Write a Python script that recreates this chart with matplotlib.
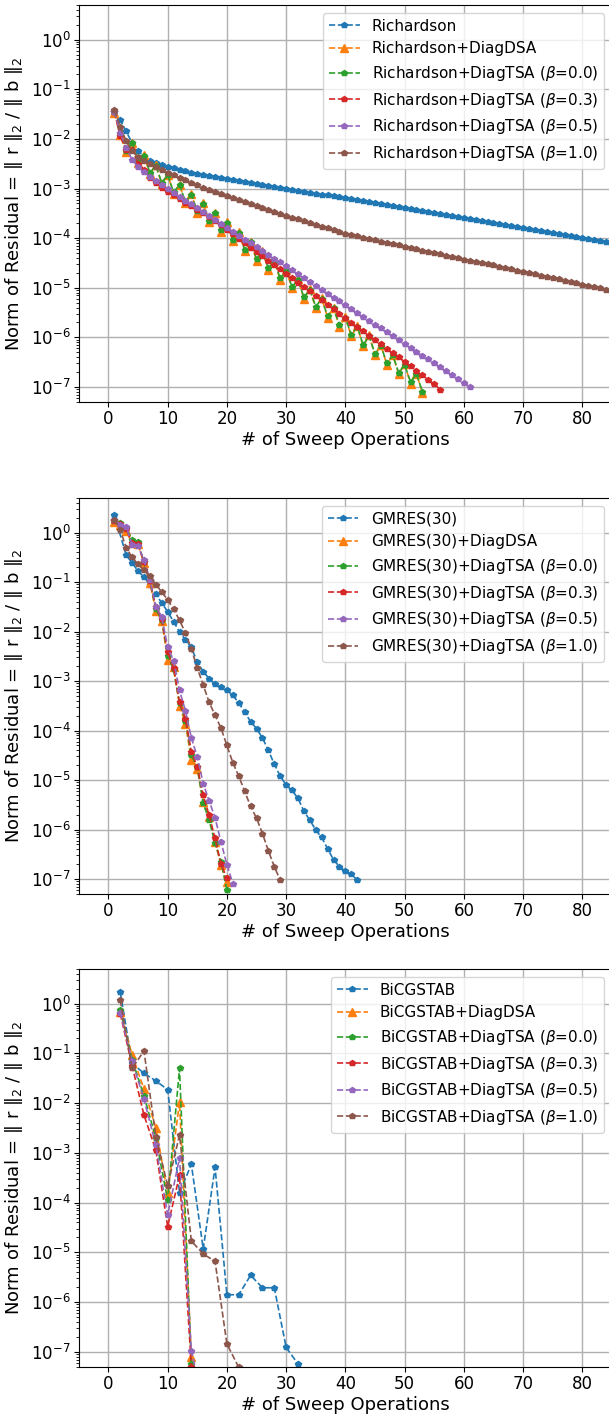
# 反復法ごとの残差ノルムの収束履歴 (Richardson / GMRES(30) / BiCGSTAB)

import numpy as np
import matplotlib.pyplot as plt

# ---- Richardson (log10 of residual norm), sweep = 1, 2, ...
rich_x = np.arange(1, 86)
rich = [-1.45, -1.62, -1.85, -2.08, -2.24, -2.36, -2.44, -2.49, -2.53, -2.57,
        -2.59, -2.62, -2.65, -2.68, -2.70, -2.72, -2.74, -2.76, -2.78, -2.80,
        -2.82, -2.84, -2.86, -2.88, -2.90, -2.92, -2.94, -2.96, -2.98, -3.00,
        -3.02, -3.04, -3.06, -3.08, -3.10, -3.12, -3.14, -3.16, -3.18, -3.20,
        -3.22, -3.24, -3.26, -3.28, -3.30, -3.32, -3.34, -3.36, -3.38, -3.40,
        -3.42, -3.44, -3.46, -3.48, -3.50, -3.52, -3.54, -3.56, -3.58, -3.60,
        -3.62, -3.64, -3.66, -3.68, -3.70, -3.72, -3.74, -3.76, -3.78, -3.80,
        -3.82, -3.84, -3.86, -3.88, -3.90, -3.92, -3.94, -3.96, -3.98, -4.00,
        -4.02, -4.04, -4.06, -4.08, -4.10]
rich_dsa = [-1.47, -1.92, -2.27, -2.08, -2.48, -2.33, -2.71, -2.53, -2.91, -2.72,
            -3.10, -2.92, -3.30, -3.11, -3.49, -3.30, -3.68, -3.49, -3.87, -3.68,
            -4.06, -3.88, -4.26, -4.07, -4.45, -4.26, -4.64, -4.46, -4.84, -4.65,
            -5.01, -4.83, -5.22, -5.03, -5.41, -5.21, -5.60, -5.40, -5.78, -5.59,
            -5.98, -5.77, -6.18, -5.96, -6.36, -6.16, -6.55, -6.35, -6.74, -6.54,
            -6.93, -6.73, -7.12]
rich_tsa00 = [-1.45, -1.90, -2.25, -2.09, -2.45, -2.34, -2.68, -2.54, -2.88, -2.73,
              -3.07, -2.93, -3.27, -3.12, -3.46, -3.31, -3.65, -3.50, -3.84, -3.69,
              -4.03, -3.89, -4.23, -4.08, -4.42, -4.27, -4.61, -4.47, -4.81, -4.66,
              -4.98, -4.84, -5.19, -5.04, -5.38, -5.22, -5.57, -5.41, -5.75, -5.60,
              -5.95, -5.78, -6.15, -5.97, -6.33, -6.17, -6.52, -6.36, -6.71, -6.55,
              -6.90, -6.74, -7.09]
rich_tsa03 = [-1.45, -1.95, -2.22, -2.22, -2.50, -2.62, -2.79, -2.88, -2.98, -3.06,
              -3.14, -3.22, -3.29, -3.36, -3.43, -3.50, -3.58, -3.66, -3.74, -3.83,
              -3.92, -4.01, -4.10, -4.19, -4.27, -4.36, -4.45, -4.54, -4.63, -4.72,
              -4.81, -4.90, -4.98, -5.07, -5.16, -5.25, -5.34, -5.43, -5.52, -5.61,
              -5.70, -5.79, -5.88, -5.97, -6.06, -6.14, -6.23, -6.32, -6.40, -6.49,
              -6.58, -6.67, -6.76, -6.85, -6.94, -7.05]
rich_tsa05 = [-1.45, -1.88, -2.18, -2.42, -2.56, -2.67, -2.76, -2.85, -2.93, -3.01,
              -3.09, -3.17, -3.25, -3.32, -3.40, -3.48, -3.56, -3.64, -3.71, -3.79,
              -3.87, -3.95, -4.03, -4.10, -4.18, -4.26, -4.34, -4.42, -4.49, -4.57,
              -4.65, -4.73, -4.81, -4.88, -4.96, -5.04, -5.12, -5.20, -5.27, -5.35,
              -5.43, -5.51, -5.59, -5.66, -5.74, -5.82, -5.90, -5.98, -6.05, -6.13,
              -6.21, -6.29, -6.37, -6.44, -6.52, -6.60, -6.68, -6.76, -6.83, -6.91,
              -6.99]
rich_tsa10 = [-1.42, -1.75, -2.05, -2.25, -2.36, -2.44, -2.51, -2.57, -2.63, -2.68,
              -2.73, -2.78, -2.83, -2.88, -2.93, -2.98, -3.03, -3.07, -3.11, -3.15,
              -3.19, -3.23, -3.27, -3.31, -3.35, -3.39, -3.43, -3.47, -3.51, -3.55,
              -3.59, -3.62, -3.66, -3.70, -3.73, -3.77, -3.80, -3.84, -3.87, -3.91,
              -3.94, -3.96, -3.99, -4.02, -4.04, -4.07, -4.09, -4.12, -4.14, -4.17,
              -4.20, -4.22, -4.25, -4.27, -4.30, -4.32, -4.35, -4.37, -4.40, -4.43,
              -4.45, -4.48, -4.50, -4.53, -4.55, -4.58, -4.60, -4.63, -4.66, -4.68,
              -4.71, -4.73, -4.76, -4.78, -4.81, -4.83, -4.86, -4.89, -4.91, -4.94,
              -4.96, -4.99, -5.01, -5.04, -5.06]

# ---- GMRES(30)
gm_x = [1, 3, 4, 5, 6, 7, 8, 9, 10, 11, 12, 13, 14, 15, 16, 17, 18, 19, 20, 21,
        22, 23, 24, 25, 26, 27, 28, 29, 30, 31, 32, 33, 34, 35, 36, 37, 38, 39,
        40, 41, 42]
gm = [0.36, -0.46, -0.61, -0.78, -0.90, -1.05, -1.25, -1.42, -1.60, -1.80,
      -2.01, -2.17, -2.32, -2.62, -2.81, -2.95, -3.06, -3.12, -3.18, -3.29,
      -3.44, -3.63, -3.82, -3.96, -4.15, -4.40, -4.68, -4.92, -5.10, -5.21,
      -5.37, -5.63, -5.81, -6.01, -6.16, -6.39, -6.61, -6.75, -6.84, -6.90,
      -7.02]
gm_dsa = [0.22, 0.15, 0.03, -0.22, -0.24, -0.62, -1.02, -1.58, -1.78, -2.57,
          -2.72, -3.50, -3.86, -4.60, -4.78, -5.44, -5.75, -6.25, -6.71, -7.05]
gm_tsa00 = [0.24, 0.20, 0.10, -0.16, -0.20, -0.60, -0.98, -1.55, -1.76, -2.50,
            -2.76, -3.45, -3.80, -4.50, -4.74, -5.47, -5.81, -6.28, -6.65, -7.22]
gm_tsa03 = [0.24, 0.18, 0.08, -0.22, -0.24, -0.60, -0.98, -1.50, -1.75, -2.42,
            -2.74, -3.43, -3.76, -4.43, -4.73, -5.31, -5.71, -6.18, -6.70, -6.98]
gm_tsa05 = [0.25, 0.16, 0.12, -0.25, -0.28, -0.55, -0.95, -1.50, -1.70, -2.32,
            -2.59, -3.19, -3.60, -4.15, -4.53, -5.07, -5.42, -5.76, -6.25, -6.71,
            -7.09]
gm_tsa10 = [0.26, 0.05, -0.31, -0.50, -0.64, -0.76, -0.88, -1.05, -1.20, -1.36,
            -1.55, -1.77, -2.03, -2.35, -2.74, -3.08, -3.43, -3.69, -3.95, -4.30,
            -4.65, -4.92, -5.23, -5.53, -5.77, -6.08, -6.43, -6.75, -7.02]

# ---- BiCGSTAB (2 sweeps per iteration)
bi_x = [2, 4, 6, 8, 10, 12, 14, 16, 18, 20, 22, 24, 26, 28, 30, 32]
bi = [0.23, -1.20, -1.40, -1.55, -1.73, -3.80, -3.23, -4.93, -3.29, -5.85,
      -5.85, -5.46, -5.71, -5.71, -6.91, -7.24]
bi_x2 = [2, 4, 6, 8, 10, 12, 14, 15]
bi_dsa = [-0.16, -1.03, -1.72, -2.49, -3.81, -1.98, -7.10, -7.60]
bi_tsa00 = [-0.12, -1.13, -1.85, -2.70, -3.95, -1.30, -7.25, -7.70]
bi_tsa03 = [-0.20, -1.25, -2.24, -2.94, -4.48, -3.45, -7.30, -7.80]
bi_tsa05 = [-0.18, -1.16, -1.92, -2.84, -4.25, -3.10, -6.98, -7.50]
bi_x3 = [2, 4, 6, 8, 10, 12, 14, 16, 18, 20, 22]
bi_tsa10 = [0.07, -1.30, -0.95, -2.67, -3.66, -2.64, -4.77, -5.03, -5.18, -6.84,
            -7.31]


def plot_panel(ax, series, name):
    labels = [name, name + '+DiagDSA',
              name + r'+DiagTSA ($\beta$=0.0)', name + r'+DiagTSA ($\beta$=0.3)',
              name + r'+DiagTSA ($\beta$=0.5)', name + r'+DiagTSA ($\beta$=1.0)']
    markers = ['p', '^', 'p', 'p', 'p', 'p']
    for i, (x, y) in enumerate(series):
        ms = 5.5 if markers[i] == '^' else 4
        ax.plot(x, 10.0 ** np.array(y), '--', marker=markers[i], ms=ms,
                lw=1.2, color='C%d' % i, label=labels[i])

    ax.set_yscale('log')
    ax.set_xlim(-5, 85)
    ax.set_ylim(5e-8, 5)
    ax.set_xticks(range(0, 90, 10))
    ax.grid(True, which='major', color='#b0b0b0', lw=1.0)
    ax.tick_params(labelsize=12, pad=2.5)
    ax.set_xlabel('# of Sweep Operations', fontsize=13, labelpad=2)
    ax.set_ylabel(r'Norm of Residual = $\Vert$ r $\Vert_2$ / $\Vert$ b $\Vert_2$',
                  fontsize=13)
    ax.legend(loc='upper right', fontsize=11)


fig = plt.figure(figsize=(6.09, 14.19), dpi=100)
ax1 = fig.add_axes([0.1294, 0.7167, 0.8755, 0.2798])
ax2 = fig.add_axes([0.1294, 0.3700, 0.8755, 0.2791])
ax3 = fig.add_axes([0.1294, 0.0367, 0.8755, 0.2805])

plot_panel(ax1, [(rich_x, rich), (rich_x[:53], rich_dsa), (rich_x[:53], rich_tsa00),
                 (rich_x[:56], rich_tsa03), (rich_x[:61], rich_tsa05),
                 (rich_x, rich_tsa10)], 'Richardson')
plot_panel(ax2, [(gm_x, gm), (range(1, 21), gm_dsa), (range(1, 21), gm_tsa00),
                 (range(1, 21), gm_tsa03), (range(1, 22), gm_tsa05),
                 (range(1, 30), gm_tsa10)], 'GMRES(30)')
plot_panel(ax3, [(bi_x, bi), (bi_x2, bi_dsa), (bi_x2, bi_tsa00),
                 (bi_x2, bi_tsa03), (bi_x2, bi_tsa05), (bi_x3, bi_tsa10)],
           'BiCGSTAB')

fig.savefig('out.png', dpi=100)
